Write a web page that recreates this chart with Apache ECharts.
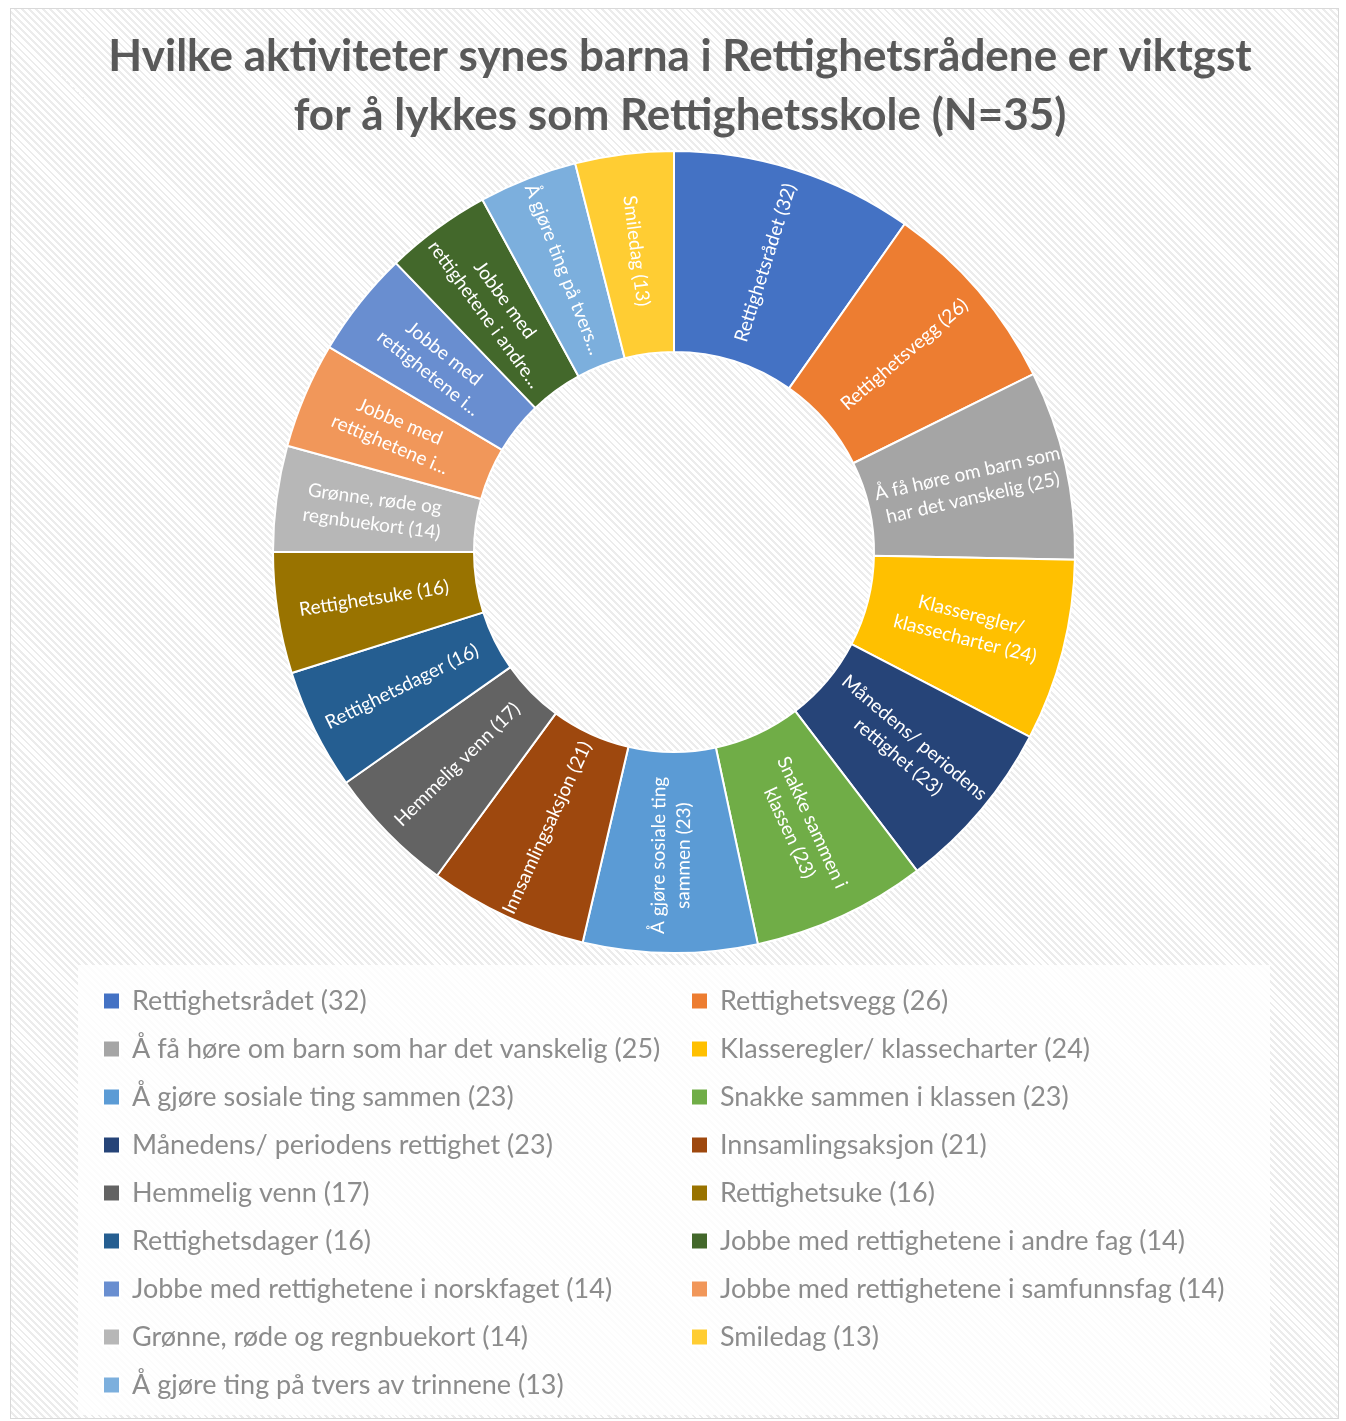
<!DOCTYPE html>
<html>
<head>
<meta charset="utf-8">
<script src="https://cdn.jsdelivr.net/npm/echarts@6/dist/echarts.min.js"></script>
<style>
  html, body { margin: 0; padding: 0; background: #fff; }
  #wrap { position: absolute; left: 0; top: 0; width: 1346px; height: 1421px; }
  #bg {
    position: absolute; left: 10px; top: 8px; width: 1327px; height: 1409px;
    border: 1px solid #d9d9d9;
    background: repeating-linear-gradient(45deg, #ffffff 0px, #ffffff 3px, #ececec 3px, #ececec 5px);
  }
  #chart { position: absolute; left: 0; top: 0; width: 1346px; height: 1421px; }
</style>
</head>
<body>
<div id="wrap">
  <div id="bg"></div>
  <div id="chart"></div>
</div>
<script>
// Slices in the clockwise order drawn in the chart (starting at 12 o'clock)
const categories = [
  'Rettighetsrådet (32)',
  'Rettighetsvegg (26)',
  'Å få høre om barn som har det vanskelig (25)',
  'Klasseregler/ klassecharter (24)',
  'Månedens/ periodens rettighet (23)',
  'Snakke sammen i klassen (23)',
  'Å gjøre sosiale ting sammen (23)',
  'Innsamlingsaksjon (21)',
  'Hemmelig venn (17)',
  'Rettighetsdager (16)',
  'Rettighetsuke (16)',
  'Grønne, røde og regnbuekort (14)',
  'Jobbe med rettighetene i samfunnsfag (14)',
  'Jobbe med rettighetene i norskfaget (14)',
  'Jobbe med rettighetene i andre fag (14)',
  'Å gjøre ting på tvers av trinnene (13)',
  'Smiledag (13)'
];
const values = [32, 26, 25, 24, 23, 23, 23, 21, 17, 16, 16, 14, 14, 14, 14, 13, 13];
// Text shown inside each slice (as wrapped / truncated in the chart)
const sliceLabels = [
  'Rettighetsrådet (32)',
  'Rettighetsvegg (26)',
  'Å få høre om barn som\nhar det vanskelig (25)',
  'Klasseregler/\nklassecharter (24)',
  'Månedens/ periodens\nrettighet (23)',
  'Snakke sammen i\nklassen (23)',
  'Å gjøre sosiale ting\nsammen (23)',
  'Innsamlingsaksjon (21)',
  'Hemmelig venn (17)',
  'Rettighetsdager (16)',
  'Rettighetsuke (16)',
  'Grønne, røde og\nregnbuekort (14)',
  'Jobbe med\nrettighetene i...',
  'Jobbe med\nrettighetene i...',
  'Jobbe med\nrettighetene i andre...',
  'Å gjøre ting på tvers...',
  'Smiledag (13)'
];
const colors = [
  '#4472C4', '#ED7D31', '#A5A5A5', '#FFC000', '#264478', '#70AD47', '#5B9BD5',
  '#9E480E', '#636363', '#255E91', '#997300', '#B7B7B7', '#F1975A', '#698ED0',
  '#43682B', '#7CAFDD', '#FFCD33'
];
// Legend order (row-wise, two columns)
const legendLeft = [
  'Rettighetsrådet (32)',
  'Å få høre om barn som har det vanskelig (25)',
  'Å gjøre sosiale ting sammen (23)',
  'Månedens/ periodens rettighet (23)',
  'Hemmelig venn (17)',
  'Rettighetsdager (16)',
  'Jobbe med rettighetene i norskfaget (14)',
  'Grønne, røde og regnbuekort (14)',
  'Å gjøre ting på tvers av trinnene (13)'
];
const legendRight = [
  'Rettighetsvegg (26)',
  'Klasseregler/ klassecharter (24)',
  'Snakke sammen i klassen (23)',
  'Innsamlingsaksjon (21)',
  'Rettighetsuke (16)',
  'Jobbe med rettighetene i andre fag (14)',
  'Jobbe med rettighetene i samfunnsfag (14)',
  'Smiledag (13)'
];
const titleText = 'Hvilke aktiviteter synes barna i Rettighetsrådene er viktgst\nfor å lykkes som Rettighetsskole (N=35)';

const FONT = 'Lato, "Open Sans", sans-serif';
const chart = echarts.init(document.getElementById('chart'), null, { renderer: 'canvas' });

const legendCommon = {
  orient: 'vertical',
  top: 986,
  padding: 0,
  itemWidth: 17,
  itemHeight: 17,
  itemGap: 18,
  icon: 'rect',
  selectedMode: false,
  textStyle: {
    fontFamily: FONT,
    fontSize: 27,
    color: '#8c8c8c',
    lineHeight: 30,
    padding: [0, 0, 0, 7]
  }
};

chart.setOption({
  animation: false,
  backgroundColor: 'transparent',
  title: {
    text: titleText,
    left: 675,
    top: 22,
    textAlign: 'center',
    textStyle: {
      fontFamily: FONT,
      fontWeight: 'bold',
      fontSize: 44,
      lineHeight: 59,
      color: '#595959'
    }
  },
  graphic: [{
    type: 'rect',
    shape: { x: 78, y: 965, width: 1192, height: 450 },
    style: { fill: 'rgba(255,255,255,0.85)' },
    z: -1
  }],
  legend: [
    Object.assign({}, legendCommon, { left: 102, data: legendLeft }),
    Object.assign({}, legendCommon, { left: 690, data: legendRight })
  ],
  series: [{
    type: 'pie',
    center: [674, 552],
    radius: [200, 401],
    startAngle: 90,
    clockwise: true,
    avoidLabelOverlap: false,
    itemStyle: { borderColor: '#ffffff', borderWidth: 2 },
    label: {
      show: true,
      position: 'inside',
      rotate: 'radial',
      color: '#ffffff',
      fontFamily: FONT,
      fontSize: 19,
      lineHeight: 25,
      align: 'center',
      formatter: p => sliceLabels[p.dataIndex]
    },
    labelLine: { show: false },
    emphasis: { disabled: true },
    data: categories.map((c, i) => ({
      name: c,
      value: values[i],
      itemStyle: { color: colors[i] }
    }))
  }]
});
</script>
</body>
</html>
